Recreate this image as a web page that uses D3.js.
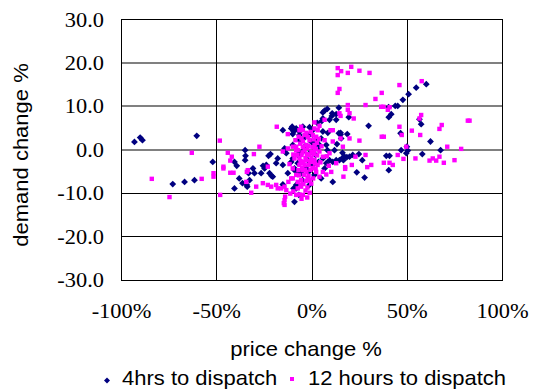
<!DOCTYPE html>
<html>
<head>
<meta charset="utf-8">
<script src="https://cdn.jsdelivr.net/npm/d3@7"></script>
<style>
  body { margin: 0; background: #fff; }
  svg { display: block; }
</style>
</head>
<body>
<svg id="chart" width="533" height="390"></svg>
<script>
// Axis ticks and labels
const xTicks = [-100, -50, 0, 50, 100];
const xTickLabels = ["-100%", "-50%", "0%", "50%", "100%"];
const yTicks = [30, 20, 10, 0, -10, -20, -30];
const yTickLabels = ["30.0", "20.0", "10.0", "0.0", "-10.0", "-20.0", "-30.0"];
const xTitle = "price change %";
const yTitle = "demand change %";
const seriesNames = ["4hrs to dispatch", "12 hours to dispatch"];

// [price change %, demand change %] — 4 hours to dispatch
const pts4h = [
  [-93.2,1.8],[-90.2,2.8],[-89.0,2.2],[-60.5,3.2],[-73.1,-7.9],[-66.9,-7.4],[-61.7,-7.0],
  [-52.1,-2.8],[-40.7,-2.8],[-39.5,-3.7],[-35.1,-0.1],[-35.1,-2.4],[-34.9,-1.4],[-33.3,-5.4],
  [-38.2,-6.6],[-36.5,-7.7],[-34.2,-8.1],[-40.7,-8.9],[-32.8,-7.0],[-31.0,-4.3],[-30.2,-5.4],
  [-26.7,-5.4],[-24.0,-3.5],[-24.9,-4.3],[-22.3,-5.4],[-22.8,-1.4],[-21.8,-1.0],[-25.7,-3.7],
  [-21.3,-6.0],[-18.8,-3.1],[-18.0,-2.0],[-15.3,-3.5],[-12.7,-5.4],[-9.2,-4.7],[-7.5,-5.4],
  [-10.9,-2.8],[-7.5,-1.2],[-14.4,0.3],[-13.5,-0.8],[-15.3,4.5],[-10.9,4.9],[-9.6,4.2],
  [-6.6,3.4],[-4.8,5.3],[-15.3,-8.0],[-34.0,-8.5],[-20.6,-6.2],[-9.2,-12.0],[-6.9,-10.4],
  [-8.3,-8.9],
  [6.6,9.0],[8.0,9.4],[14.1,9.7],[12.7,8.2],[10.4,7.8],[5.7,7.2],[2.7,6.2],[5.1,6.6],[9.2,6.9],
  [-8.3,4.9],[-10.4,5.3],[-6.6,4.2],[-10.1,3.6],[-1.3,5.2],[0.4,4.5],[-0.9,3.6],[-3.9,2.8],
  [-6.6,2.2],[-10.1,1.1],[5.7,4.2],[8.3,3.9],[14.1,3.8],[15.3,2.6],[4.8,2.6],[2.2,1.9],[7.5,1.1],
  [-10.1,-2.0],[-7.5,-3.1],[-9.2,-4.3],[-5.7,-5.4],[-9.7,-8.9],[-8.3,-8.1],[-3.0,-4.3],
  [-2.2,-2.4],[0.4,-3.5],[5.7,-2.0],[7.5,-3.1],[9.2,-2.4],[10.9,-2.8],[12.7,-2.4],[14.4,-2.4],
  [6.6,-4.3],[4.8,-6.6],[10.9,-7.4],[-1.3,-0.8],[-6.6,-0.8],[-4.8,-0.4],
  [2.9,0.4],[3.9,1.1],[-0.3,1.8],[-3.4,0.9],[1.8,-1.2],[3.4,-2.8],[-1.8,-5.1],[1.3,-5.8],
  [-5.0,-7.0],[8.1,-0.1],[11.8,-0.1],[-1.3,-8.1],[13.1,1.3],[12.7,6.9],
  [60.0,15.1],[54.7,14.3],[50.7,12.8],[47.7,11.5],[45.0,10.1],[43.7,10.1],[40.2,9.8],[41.6,8.2],
  [40.3,7.5],[29.7,5.5],[19.3,7.5],[5.7,8.6],[10.6,8.4],[15.0,3.9],[15.0,3.5],[18.5,3.6],
  [56.4,7.0],[57.3,5.9],[46.5,3.8],[62.2,1.9],[67.5,-0.1],[50.3,-0.2],[46.8,-0.1],[49.5,-0.8],
  [57.9,-1.0],[39.0,-1.4],[40.7,-1.4],[24.6,-1.0],[19.7,-1.6],[18.3,-1.7],[40.3,-4.7],
  [27.6,-6.4],[23.5,-5.2],[26.4,-2.4],[21.4,-1.2],[17.1,-1.6],[16.5,-2.4],[16.0,-0.7],
  [16.0,-1.9],[49.8,0.7]
];

// [price change %, demand change %] — 12 hours to dispatch
const pts12h = [
  [-48.4,2.1],[-63.1,-0.7],[-84.1,-6.7],[-57.9,-6.7],[-74.8,-10.9],[-51.7,-5.4],[-51.7,-6.2],
  [-46.5,-3.9],[-46.5,-4.3],[-44.2,-0.7],[-42.1,-1.6],[-42.9,-2.5],[-42.9,-5.3],[-41.2,-5.3],
  [-34.2,-5.1],[-48.2,-10.4],[-31.9,-9.9],[-34.5,-7.4],[-29.3,-8.5],[-25.8,-7.7],[-23.2,-8.1],
  [-21.4,-8.5],[-18.8,-8.1],[-18.0,-8.9],[-16.2,-8.9],[-14.4,-8.5],[-13.5,-9.3],[-14.4,-11.6],
  [-14.8,-12.3],[-14.4,-12.7],[-14.1,-10.8],[-8.3,-10.4],[-6.6,-10.3],[-2.5,-11.0],[-5.5,-11.3],
  [-10.9,-6.6],[-7.5,-7.4],[-1.3,-7.0],[-5.7,-8.5],[-27.6,0.7],[-18.5,5.3],[-12.7,3.6],
  [-6.6,4.5],[-15.3,-0.4],[-12.7,0.3],[-10.1,0.7],[-7.5,-0.1],[-9.2,-2.0],[-5.7,-3.1],
  [-10.1,-4.3],[-4.8,-4.7],[-33.7,-4.7],[-23.2,-3.9],[-30.5,-1.0],
  [1.3,6.3],[3.9,5.5],[6.6,6.9],[14.4,8.4],[15.0,7.8],[-5.7,5.3],[-4.8,4.5],[1.3,4.9],[3.0,4.5],
  [9.7,4.5],[10.9,4.5],[-3.9,3.4],[0.4,3.4],[2.2,3.0],[6.6,2.2],[10.9,1.9],[-4.8,1.9],[-8.3,0.7],
  [-3.0,1.1],[1.3,1.1],
  [-8.3,-0.1],[-4.8,0.7],[-1.3,-1.2],[-0.4,-2.8],[-3.9,-3.5],[-6.6,-3.5],[-8.3,-5.8],[-5.7,-7.0],
  [-10.1,-6.6],[-7.5,-8.9],[-4.8,-10.4],[1.3,-0.1],[3.9,-0.4],[5.7,-1.6],[9.2,-0.8],[10.1,-5.1],
  [5.7,-5.1],[7.5,-5.7],[2.2,-5.1],[3.9,-6.2],[12.7,-3.1],[16.2,0.7],
  [-3.9,-0.1],[-2.4,0.4],[-0.3,-0.5],[-3.4,-1.9],[-0.3,-1.9],[-6.6,-1.9],[-4.5,-2.8],[-1.8,-3.5],
  [1.3,-2.4],[-2.9,-5.1],[0.3,-4.2],[2.9,-3.5],[-5.5,-1.2],[-1.3,2.2],[-8.7,2.2],[-7.1,-4.7],
  [-1.8,-6.0],[-4.5,-7.9],
  [-7.0,3.0],[-5.5,2.6],[-2.2,2.9],[0.9,2.4],[2.6,1.6],[-6.2,1.4],[-1.9,0.9],[0.2,0.6],[2.0,0.2],
  [-5.0,-0.6],[-2.6,-1.0],[0.9,-1.0],[2.7,-1.3],[-7.9,-1.2],[-6.0,-2.6],[-3.0,-2.4],[-1.0,-2.6],
  [1.6,-3.2],[-5.2,-4.2],[-3.6,-4.6],[-0.8,-4.6],[1.9,-4.4],[-6.8,-5.9],[-4.2,-5.8],[-2.3,-6.5],
  [0.6,-6.6],[-3.2,-7.2],[-0.4,-7.8],[-6.0,-8.0],[-2.4,-8.7],[-3.4,-9.4],[-1.2,-9.9],[4.4,-2.9],
  [5.0,0.8],[3.6,2.5],[-0.6,4.1],[-2.9,3.9],[7.8,-1.5],[8.8,-3.7],[-9.8,-1.1],[-11.8,-3.3],
  [-12.4,-7.4],[-9.8,-9.6],[-11.4,-10.1],
  [13.5,18.8],[15.3,18.1],[13.5,17.2],[20.6,19.1],[18.8,17.7],[24.9,18.2],[30.2,17.7],[14.4,14.0],
  [13.5,13.1],[45.9,14.9],[57.6,15.8],[36.6,13.1],[33.3,11.7],[28.1,10.3],[18.8,10.3],[36.3,9.9],
  [37.5,9.9],[40.7,9.8],[18.8,9.2],[19.7,8.4],[21.9,7.2],[39.8,9.2],[45.9,5.3],[47.1,3.4],
  [57.3,8.0],[56.4,7.2],[68.1,5.7],[66.9,4.8],[81.8,6.7],[82.7,6.7],[56.8,3.4],[52.4,4.4],
  [36.6,3.0],[37.7,3.0],[24.9,2.1],[71.0,0.7],[78.3,0.2],[49.5,0.7],[28.1,-1.2],[45.0,-1.2],
  [66.9,-1.6],[54.3,-2.0],[63.4,-2.0],[74.8,-2.4],[61.7,-2.5],[65.2,-2.5],[69.2,-3.0],[48.0,-2.1],
  [37.7,-3.0],[40.7,-3.0],[42.4,-3.5],[31.1,-3.5],[29.0,-4.0],[20.9,-3.5],[17.4,-4.0],[17.4,-4.4],
  [16.5,-6.2],[22.8,-1.6],[15.0,2.6],[19.7,2.6]
];

const NAVY = "#000080";
const MAGENTA = "#ff00ff";
const SERIF = '"Liberation Serif"';
const SANS = '"Liberation Sans"';

const svg = d3.select("#chart");

const plot = { left: 121.5, right: 502.5, top: 19.5, bottom: 280 };
const x = d3.scaleLinear().domain([-100, 100]).range([plot.left, plot.right]);
const y = d3.scaleLinear().domain([-30, 30]).range([plot.bottom, plot.top]);

const snap = v => Math.round(v - 0.5) + 0.5;

// Horizontal gridlines: upper half in grey, lower half in black
svg.append("g").selectAll("line")
  .data(yTicks.filter(v => v > -30 && v < 30))
  .join("line")
  .attr("x1", plot.left).attr("x2", plot.right)
  .attr("y1", d => d >= 0 ? Math.round(y(d)) : snap(y(d)))
  .attr("y2", d => d >= 0 ? Math.round(y(d)) : snap(y(d)))
  .attr("stroke", d => d >= 0 ? "#808080" : "#000")
  .attr("stroke-width", d => d >= 0 ? 2 : 1)
  .attr("shape-rendering", "crispEdges");

// Vertical gridlines
svg.append("g").selectAll("line")
  .data(xTicks.filter(v => v > -100 && v < 100))
  .join("line")
  .attr("x1", d => snap(x(d))).attr("x2", d => snap(x(d)))
  .attr("y1", plot.top).attr("y2", plot.bottom)
  .attr("stroke", "#000")
  .attr("shape-rendering", "crispEdges");

// Plot frame
svg.append("rect")
  .attr("x", snap(plot.left)).attr("y", snap(plot.top))
  .attr("width", Math.round(plot.right - plot.left))
  .attr("height", Math.round(plot.bottom - plot.top))
  .attr("fill", "none").attr("stroke", "#000")
  .attr("shape-rendering", "crispEdges");

// Tick labels (serif)
const stretch = 1.12;
svg.append("g").selectAll("text")
  .data(yTicks)
  .join("text")
  .attr("transform", d => `translate(104,${y(d) + 7}) scale(${stretch},1)`)
  .attr("text-anchor", "end")
  .attr("font-size", 20)
  .style("font-family", SERIF)
  .attr("fill", "#000")
  .text((d, i) => yTickLabels[i]);

svg.append("g").selectAll("text")
  .data(xTicks)
  .join("text")
  .attr("transform", d => `translate(${x(d)},318) scale(${stretch},1)`)
  .attr("text-anchor", "middle")
  .attr("font-size", 20)
  .style("font-family", SERIF)
  .attr("fill", "#000")
  .text((d, i) => xTickLabels[i]);

// Axis titles
svg.append("text")
  .attr("transform", `translate(306,356) scale(1.1,1)`)
  .attr("text-anchor", "middle")
  .attr("font-size", 20)
  .style("font-family", SANS)
  .attr("fill", "#000")
  .text(xTitle);

svg.append("text")
  .attr("transform", `translate(28,155) rotate(-90) scale(1.1,1)`)
  .attr("text-anchor", "middle")
  .attr("font-size", 20)
  .style("font-family", SANS)
  .attr("fill", "#000")
  .text(yTitle);

// Markers
const diamond = (cx, cy, r) => `M${cx},${cy - r}L${cx + r},${cy}L${cx},${cy + r}L${cx - r},${cy}Z`;

svg.append("g").selectAll("path")
  .data(pts4h)
  .join("path")
  .attr("d", d => diamond(x(d[0]), y(d[1]), 3.4))
  .attr("fill", NAVY);

svg.append("g").selectAll("rect")
  .data(pts12h)
  .join("rect")
  .attr("x", d => x(d[0]) - 2.2).attr("y", d => y(d[1]) - 2.2)
  .attr("width", 4.4).attr("height", 4.4)
  .attr("fill", MAGENTA);

// Legend
const legend = svg.append("g");
legend.append("path").attr("d", diamond(107, 380.5, 3)).attr("fill", NAVY);
legend.append("text")
  .attr("transform", `translate(122,385) scale(1.1,1)`)
  .attr("font-size", 20)
  .style("font-family", SANS)
  .attr("fill", "#000")
  .text(seriesNames[0]);
legend.append("rect").attr("x", 290).attr("y", 377).attr("width", 4).attr("height", 4).attr("fill", MAGENTA);
legend.append("text")
  .attr("transform", `translate(308,385) scale(1.1,1)`)
  .attr("font-size", 20)
  .style("font-family", SANS)
  .attr("fill", "#000")
  .text(seriesNames[1]);
</script>
</body>
</html>
